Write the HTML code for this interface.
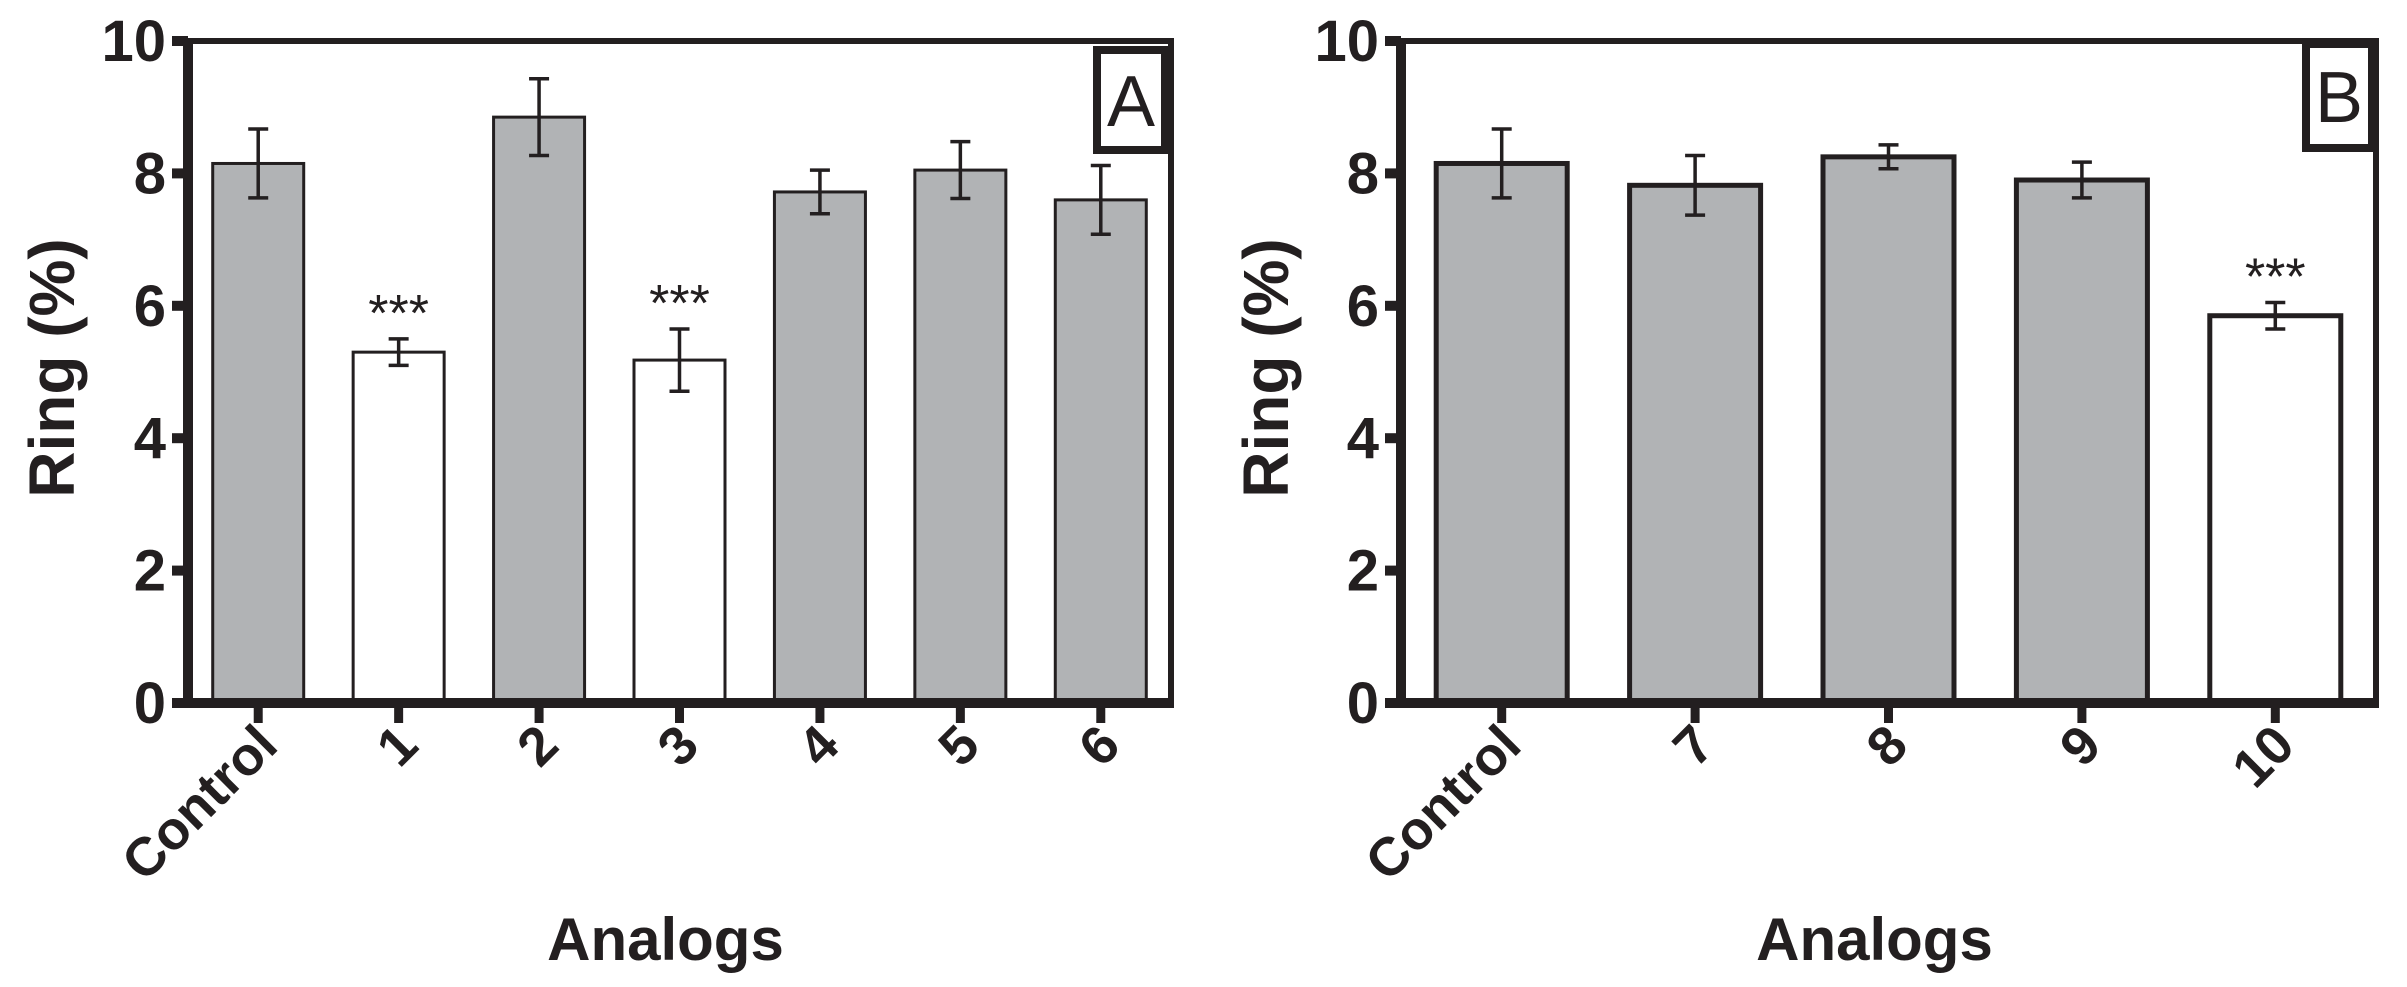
<!DOCTYPE html>
<html><head><meta charset="utf-8"><style>
html,body{margin:0;padding:0;background:#fff;}
svg{display:block;font-family:"Liberation Sans",Arial,sans-serif;}
</style></head><body>
<svg id="chart" width="2407" height="987" viewBox="0 0 2407 987" xmlns="http://www.w3.org/2000/svg"></svg>
<script>
const catsA = ["Control","1","2","3","4","5","6"];
const valsA = [8.15,5.3,8.85,5.18,7.72,8.05,7.6];
const errA = [0.52,0.2,0.58,0.47,0.33,0.43,0.52];
const sigA = [false,true,false,true,false,false,false];
const catsB = ["Control","7","8","9","10"];
const valsB = [8.15,7.82,8.25,7.9,5.85];
const errB = [0.52,0.45,0.18,0.27,0.2];
const sigB = [false,false,false,false,true];
const yTicks = [0,2,4,6,8,10];

const NS="http://www.w3.org/2000/svg";
const svg=document.getElementById('chart');
function mk(tag,attrs,parent){const e=document.createElementNS(NS,tag);for(const k in attrs)e.setAttribute(k,attrs[k]);(parent||svg).appendChild(e);return e;}

function panel(cfg,cats,vals,errs,sig){
  const g=mk('g',{});
  
  
  const y=v=>cfg.y0-(v/10)*(cfg.y0-cfg.y1);
  const step=(cfg.right-cfg.x0-cfg.pad*2)/cats.length;
  const cx=i=>cfg.x0+cfg.pad+step*(i+0.5);
  cats.forEach((c,i)=>{
    const r=mk('rect',{x:cx(i)-cfg.bw/2,y:y(vals[i]),width:cfg.bw,height:y(0)-y(vals[i]),fill:sig[i]?'#fff':'#b1b3b5',stroke:'#231f20','stroke-width':cfg.bs},g);
    
    
    const eg=mk('g',{stroke:'#231f20','stroke-width':3.5},g);
    
    
    const t=y(vals[i]+errs[i]),b=y(vals[i]-errs[i]);
    mk('line',{x1:cx(i),x2:cx(i),y1:t,y2:b},eg);
    mk('line',{x1:cx(i)-10,x2:cx(i)+10,y1:t,y2:t},eg);
    mk('line',{x1:cx(i)-10,x2:cx(i)+10,y1:b,y2:b},eg);
    if(sig[i]){
      const s=mk('text',{x:cx(i),y:t-8,'font-size':52,'text-anchor':'middle',fill:'#231f20'},g);
      s.textContent='***';
      
      
    }
    mk('line',{x1:cx(i),x2:cx(i),y1:cfg.y0,y2:cfg.y0+20,stroke:'#231f20','stroke-width':9},g);
    const lx=cx(i)+22,ly=748;
    const lt=mk('text',{x:lx,y:ly,'font-size':54,'font-weight':'bold','text-anchor':'end',fill:'#231f20',transform:`rotate(-45 ${lx} ${ly})`},g);
    lt.textContent=c;
    
    
  });
  mk('line',{x1:cfg.x0,x2:cfg.right,y1:cfg.y1,y2:cfg.y1,stroke:'#231f20','stroke-width':6},g);
  mk('line',{x1:cfg.right,x2:cfg.right,y1:cfg.y1-3,y2:cfg.y0,stroke:'#231f20','stroke-width':6},g);
  const ax=mk('g',{stroke:'#231f20','stroke-width':10},g);
  
  
  mk('line',{x1:cfg.x0,x2:cfg.x0,y1:cfg.y1-3,y2:cfg.y0+5},ax);
  mk('line',{x1:cfg.x0-16,x2:cfg.right+3,y1:cfg.y0,y2:cfg.y0},ax);
  yTicks.forEach(v=>{
    mk('line',{x1:cfg.x0-16,x2:cfg.x0,y1:y(v),y2:y(v)},ax);
    const t=mk('text',{x:cfg.x0-22,y:y(v)+20,'font-size':58,'font-weight':'bold','text-anchor':'end',fill:'#231f20'},g);
    t.textContent=v;
    
    
  });
  const yl=mk('text',{x:cfg.ylx,y:368,'font-size':64,'font-weight':'bold','text-anchor':'middle',fill:'#231f20',transform:`rotate(-90 ${cfg.ylx} 368)`},g);
  yl.textContent='Ring (%)';
  
  
  const xl=mk('text',{x:(cfg.x0+cfg.right)/2-14,y:960,'font-size':60,'font-weight':'bold','text-anchor':'middle',fill:'#231f20'},g);
  xl.textContent='Analogs';
  
  
  const lb=mk('g',{},g);
  
  
  mk('rect',{x:cfg.bx,y:cfg.by,width:cfg.bW,height:cfg.bH,fill:'#fff',stroke:'#231f20','stroke-width':8},lb);
  const lt=mk('text',{x:cfg.bx+cfg.bW/2,y:cfg.by+cfg.bH/2+26,'font-size':72,'text-anchor':'middle',fill:'#231f20'},lb);
  lt.textContent=cfg.id;
}
panel({id:'A',x0:188,right:1171,y0:703,y1:41,pad:0,bw:91,bs:3,ylx:74,bx:1097,by:50,bW:68,bH:100},catsA,valsA,errA,sigA);
panel({id:'B',x0:1401,right:2376,y0:703,y1:41,pad:4,bw:131,bs:5,ylx:1288,bx:2306,by:44,bW:66,bH:104},catsB,valsB,errB,sigB);
</script>
</body></html>
